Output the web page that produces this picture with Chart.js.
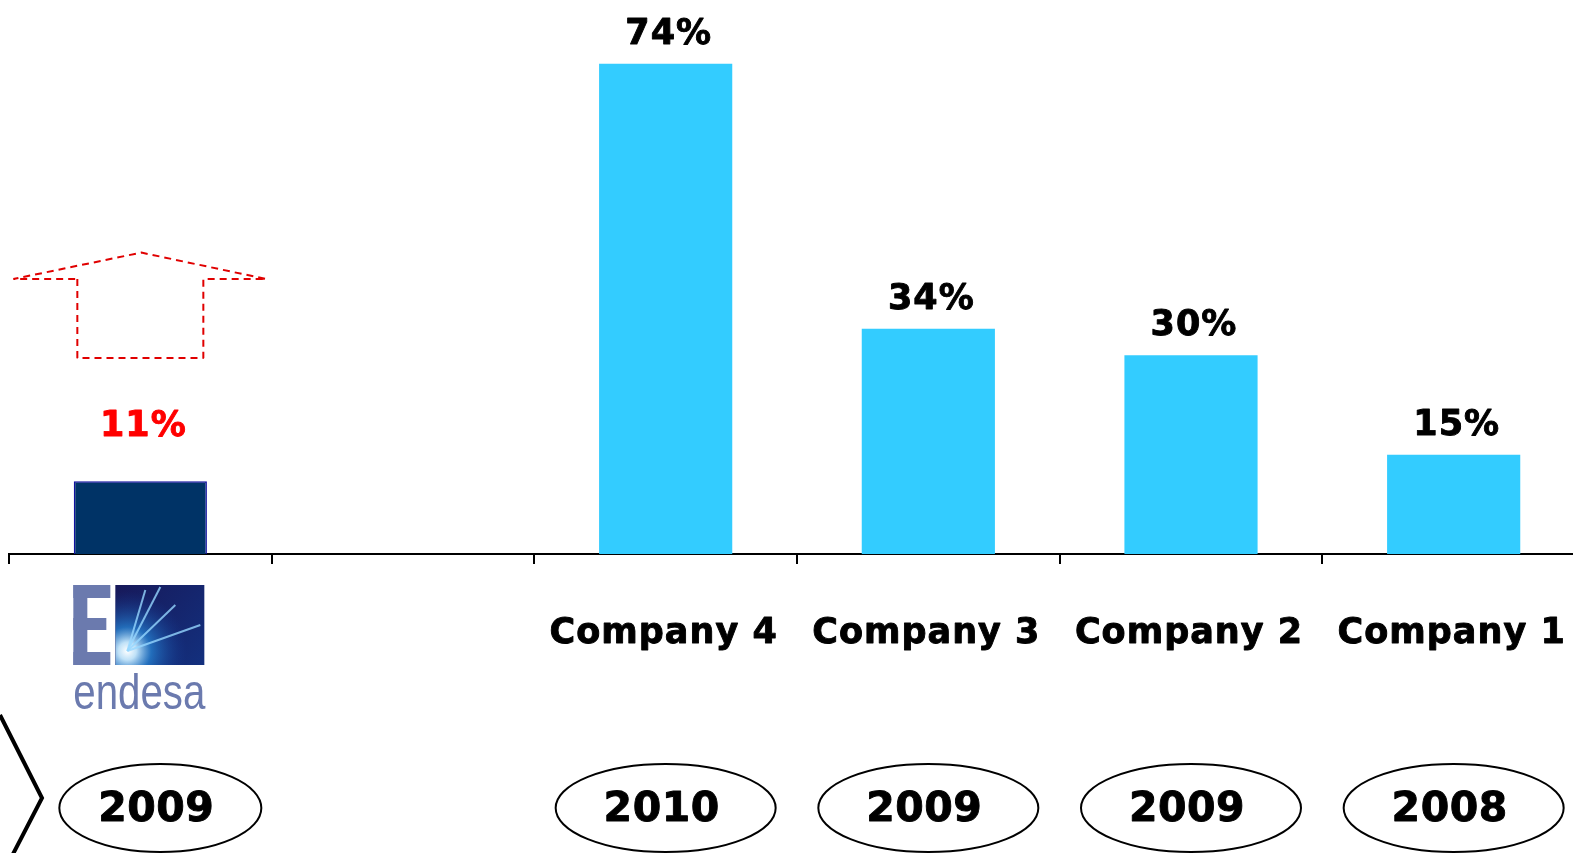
<!DOCTYPE html>
<html>
<head>
<meta charset="utf-8">
<script src="https://cdn.jsdelivr.net/npm/chart.js@4.4.1/dist/chart.umd.min.js"></script>
<style>
  html, body { margin: 0; padding: 0; background: #fff; overflow: hidden; }
  #wrap { width: 1590px; height: 853px; }
</style>
</head>
<body>
<div id="wrap"><canvas id="c" width="1590" height="853"></canvas></div>
<script>
// ---- data ----
const categories = ['endesa', '', 'Company 4', 'Company 3', 'Company 2', 'Company 1'];
const values = [11, null, 74, 34, 30, 15];
const valueLabels = ['11%', '', '74%', '34%', '30%', '15%'];
const years = ['2009', '', '2010', '2009', '2009', '2008'];
const barColors = ['#003366', '#33CCFF', '#33CCFF', '#33CCFF', '#33CCFF', '#33CCFF'];

const BOLD = '"DejaVu Sans", Verdana, sans-serif';

function heavyText(ctx, txt, x, y, color) {
  ctx.fillStyle = color;
  ctx.strokeStyle = color;
  ctx.lineWidth = 0.9;
  ctx.lineJoin = 'round';
  ctx.fillText(txt, x, y);
  ctx.strokeText(txt, x, y);
}

function drawLogo(ctx, cx) {
  // endesa logo approximation, centered on the category
  const left = cx - 67, top = 585;
  ctx.save();
  ctx.fillStyle = '#6b7aae';
  ctx.fillRect(left, top, 14, 80);
  ctx.fillRect(left, top, 37, 13);
  ctx.fillRect(left, top + 33, 33, 12);
  ctx.fillRect(left, top + 67, 37, 13);
  const sx = left + 42, sw = 89, sh = 80;
  const g = ctx.createLinearGradient(sx, top, sx + sw, top + sh);
  g.addColorStop(0, '#17195a');
  g.addColorStop(1, '#13307e');
  ctx.fillStyle = g;
  ctx.fillRect(sx, top, sw, sh);
  ctx.save();
  ctx.beginPath(); ctx.rect(sx, top, sw, sh); ctx.clip();
  const gx = sx + 12, gy = top + 66;
  const rg = ctx.createRadialGradient(gx, gy, 0, gx, gy, 60);
  rg.addColorStop(0, 'rgba(255,255,255,1)');
  rg.addColorStop(0.15, 'rgba(200,235,255,0.95)');
  rg.addColorStop(0.4, 'rgba(40,140,220,0.7)');
  rg.addColorStop(1, 'rgba(20,60,150,0)');
  ctx.fillStyle = rg;
  ctx.fillRect(sx, top, sw, sh);
  ctx.strokeStyle = 'rgba(150,215,255,0.8)';
  ctx.lineWidth = 2;
  [[sx + 30, top + 5], [sx + 60, top + 20], [sx + 85, top + 40], [sx + 45, top + 2]].forEach(p => {
    ctx.beginPath(); ctx.moveTo(gx, gy); ctx.lineTo(p[0], p[1]); ctx.stroke();
  });
  ctx.restore();
  ctx.font = '50px "Liberation Sans", Arial, sans-serif';
  ctx.textBaseline = 'alphabetic';
  ctx.textAlign = 'left';
  ctx.letterSpacing = '0px';
  const w = ctx.measureText('endesa').width;
  ctx.translate(left, 709);
  ctx.scale(132 / w, 1);
  ctx.fillStyle = '#6b7aae';
  ctx.fillText('endesa', 0, 0);
  ctx.restore();
}

const decor = {
  id: 'decor',
  afterDatasetsDraw(chart) {
    const ctx = chart.ctx;
    const x = chart.scales.x, y = chart.scales.y;
    const meta = chart.getDatasetMeta(0);
    ctx.save();
    // value labels
    ctx.textAlign = 'center';
    ctx.textBaseline = 'middle';
    ctx.font = 'bold 35px ' + BOLD;
    ctx.letterSpacing = '1px';
    values.forEach((v, i) => {
      if (v == null) return;
      const bar = meta.data[i];
      const off = i === 0 ? 54 : 29;
      heavyText(ctx, valueLabels[i], bar.x + 3, bar.y - off, i === 0 ? '#ff0000' : '#000000');
    });

    // dashed arrow above highlighted bar
    const b0 = meta.data[0];
    const cx = b0.x;
    const yb = y.getPixelForValue(29.6), ys = y.getPixelForValue(41.5), ya = y.getPixelForValue(45.5);
    ctx.strokeStyle = '#e00000';
    ctx.lineWidth = 2;
    ctx.lineJoin = 'bevel';
    ctx.setLineDash([7, 5]);
    ctx.beginPath();
    ctx.moveTo(cx - 63, ys);
    ctx.lineTo(cx - 63, yb);
    ctx.lineTo(cx + 63, yb);
    ctx.lineTo(cx + 63, ys);
    ctx.lineTo(cx + 126, ys);
    ctx.lineTo(cx + 1, ya);
    ctx.lineTo(cx - 127, ys);
    ctx.closePath();
    ctx.stroke();
    ctx.setLineDash([]);

    // category labels
    categories.forEach((c, i) => {
      const px = x.getPixelForValue(i);
      if (i === 0) { drawLogo(ctx, px); return; }
      if (!c) return;
      ctx.textAlign = 'center';
      ctx.textBaseline = 'middle';
      ctx.letterSpacing = '1px';
      ctx.font = 'bold 35px ' + BOLD;
      heavyText(ctx, c, px - 2, 634, '#000');
    });

    // year ellipses
    years.forEach((yr, i) => {
      if (!yr) return;
      const px = x.getPixelForValue(i);
      const ecx = px + (i === 0 ? 20 : 0);
      ctx.beginPath();
      ctx.ellipse(ecx, 808, i === 0 ? 101 : 110, 44, 0, 0, Math.PI * 2);
      ctx.strokeStyle = '#000';
      ctx.lineWidth = 2;
      ctx.stroke();
      ctx.textAlign = 'center';
      ctx.textBaseline = 'middle';
      ctx.letterSpacing = '0.5px';
      ctx.font = 'bold 41px ' + BOLD;
      heavyText(ctx, yr, ecx - 4, 810, '#000');
    });

    // chevron
    ctx.beginPath();
    ctx.moveTo(0, 715);
    ctx.lineTo(42, 798);
    ctx.lineTo(12, 856);
    ctx.strokeStyle = '#000';
    ctx.lineJoin = 'miter';
    ctx.lineWidth = 4;
    ctx.stroke();
    ctx.restore();
  }
};

new Chart(document.getElementById('c'), {
  type: 'bar',
  data: {
    labels: categories,
    datasets: [{
      data: values,
      backgroundColor: barColors,
      borderColor: barColors.map((c, i) => i === 0 ? '#1010a0' : c),
      borderWidth: barColors.map((c, i) => i === 0 ? 1.5 : 0),
      borderSkipped: 'bottom',
      categoryPercentage: 1,
      barPercentage: 0.507
    }]
  },
  options: {
    responsive: false,
    animation: false,
    devicePixelRatio: 1,
    layout: { padding: { left: 9, right: 5, top: 24, bottom: 0 } },
    plugins: { legend: { display: false }, tooltip: { enabled: false } },
    scales: {
      x: {
        display: true,
        ticks: { display: false },
        grid: {
          display: true,
          offset: true,
          drawOnChartArea: false,
          drawTicks: true,
          tickLength: 10,
          color: '#000',
          lineWidth: 2
        },
        border: { display: true, color: '#000', width: 2 },
        afterFit(scale) { scale.height = 299; }
      },
      y: {
        display: false,
        min: 0,
        max: 80
      }
    }
  },
  plugins: [decor]
});
</script>
</body>
</html>
